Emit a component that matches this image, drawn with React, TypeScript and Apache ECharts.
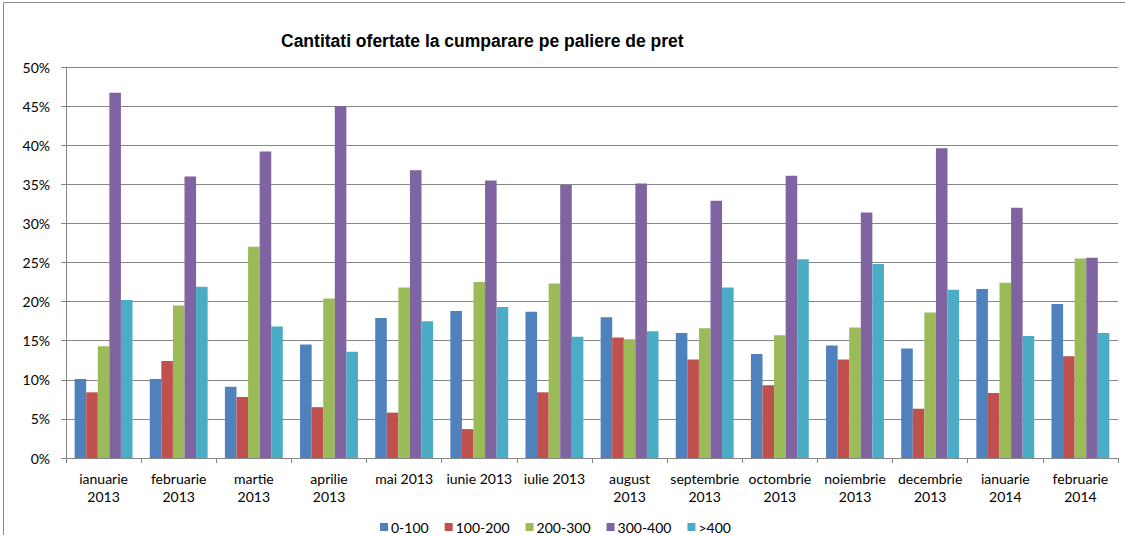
import React, { useEffect, useRef } from "react";
import * as echarts from "echarts";

const categories = [
  "ianuarie\n2013", "februarie\n2013", "martie\n2013", "aprilie\n2013", "mai 2013",
  "iunie 2013", "iulie 2013", "august\n2013", "septembrie\n2013", "octombrie\n2013",
  "noiembrie\n2013", "decembrie\n2013", "ianuarie\n2014", "februarie\n2014",
];
const seriesNames = ["0-100", "100-200", "200-300", "300-400", ">400"];
const s0_100 = [10.1, 10.1, 9.1, 14.5, 17.9, 18.8, 18.7, 18.0, 16.0, 13.3, 14.4, 14.0, 21.6, 19.7];
const s100_200 = [8.4, 12.4, 7.8, 6.5, 5.8, 3.7, 8.4, 15.4, 12.6, 9.3, 12.6, 6.3, 8.3, 13.0];
const s200_300 = [14.3, 19.5, 27.0, 20.4, 21.8, 22.5, 22.3, 15.2, 16.6, 15.7, 16.7, 18.6, 22.4, 25.5];
const s300_400 = [46.7, 36.0, 39.2, 45.0, 36.8, 35.5, 34.9, 35.1, 32.9, 36.1, 31.4, 39.6, 32.0, 25.6];
const s400 = [20.2, 21.9, 16.8, 13.6, 17.5, 19.3, 15.5, 16.2, 21.8, 25.4, 24.8, 21.5, 15.6, 16.0];
const colors = ["#4F81BD", "#C0504D", "#9BBB59", "#8064A2", "#4BACC6"];
const title = "Cantitati ofertate la cumparare pe paliere de pret";

export default function App() {
  const ref = useRef<HTMLDivElement>(null);
  useEffect(() => {
    if (!ref.current) return;
    const chart = echarts.init(ref.current, null, { renderer: "svg" });
    const data = [s0_100, s100_200, s200_300, s300_400, s400];
    const font = "Lato, 'Liberation Sans', sans-serif";
    chart.setOption({
      animation: false,
      color: colors,
      title: {
        text: title,
        left: 276,
        top: 27,
        textStyle: { fontFamily: "'Liberation Sans', Arial, sans-serif", fontSize: 17.5, fontWeight: "bold", color: "#000" },
      },
      graphic: [
        {
          type: "rect",
          shape: { x: 3.5, y: 2.5, width: 1130, height: 540 },
          style: { fill: "none", stroke: "#8a8a8a", lineWidth: 1 },
          silent: true,
        },
      ],
      legend: {
        data: seriesNames,
        left: 375,
        top: 515,
        itemWidth: 8,
        itemHeight: 8,
        itemGap: 16,
        icon: "rect",
        textStyle: { fontFamily: font, fontSize: 14, color: "#000", padding: [0, 0, 0, -2] },
      },
      grid: { left: 66, right: 7, top: 67, bottom: 77, containLabel: false },
      xAxis: {
        type: "category",
        data: categories,
        axisLine: { lineStyle: { color: "#868686" } },
        axisTick: { show: true, length: 5, lineStyle: { color: "#868686" } },
        axisLabel: { fontFamily: font, fontSize: 14, color: "#000", lineHeight: 18, margin: 11, interval: 0 },
      },
      yAxis: {
        type: "value",
        min: 0,
        max: 50,
        interval: 5,
        axisLine: { show: true, lineStyle: { color: "#868686" } },
        axisTick: { show: true, length: 5, lineStyle: { color: "#868686" } },
        splitLine: { lineStyle: { color: "#868686" } },
        axisLabel: { fontFamily: font, fontSize: 14, color: "#000", formatter: "{value}%", margin: 16 },
      },
      series: seriesNames.map((n, i) => ({
        name: n,
        type: "bar",
        data: data[i],
        barGap: "0%",
        barCategoryGap: "23%",
        itemStyle: { color: colors[i] },
      })),
    });
    return () => chart.dispose();
  }, []);
  return <div ref={ref} style={{ position: "fixed", left: 0, top: 0, width: 1125, height: 535, background: "#fff" }} />;
}
